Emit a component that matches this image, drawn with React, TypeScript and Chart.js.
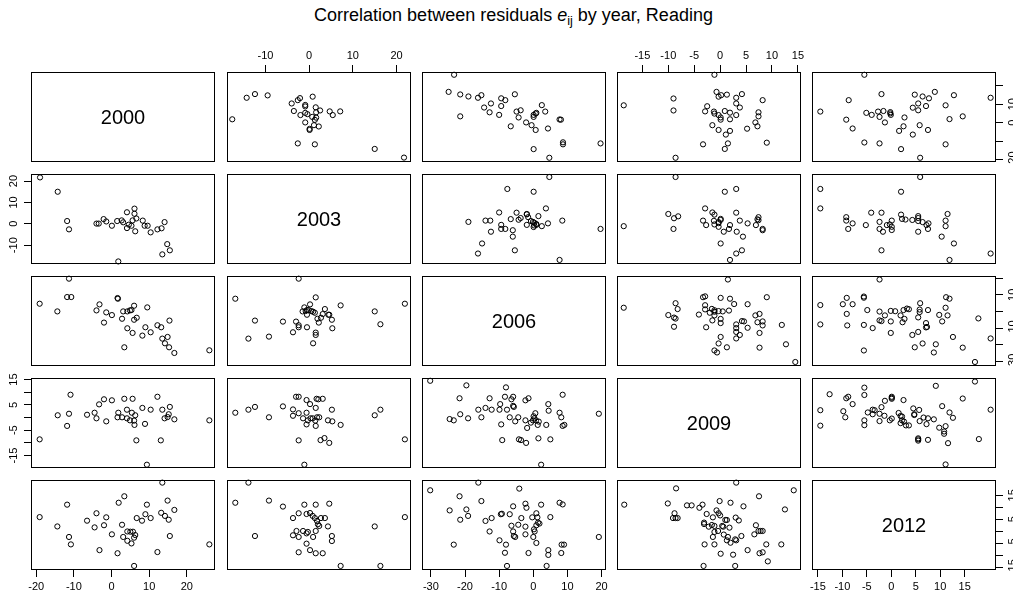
import { useEffect, useRef } from 'react';
import { Chart, registerables } from 'chart.js';

Chart.register(...registerables);

const years = ['2000', '2003', '2006', '2009', '2012'];

// Residual pairs [earlier year, later year] (pairwise complete observations)
const pairs2000_2003 = [[-19.0,21.7],[-14.3,15.0],[-11.8,1.3],[-11.3,-2.6],[-4.0,0.1],[-3.4,0.1],[-2.1,2.2],[-1.4,1.1],[0.1,-0.9],[1.5,1.3],[1.8,-17.6],[2.7,1.6],[3.1,0.7],[4.1,5.4],[4.1,-2.0],[4.6,-0.4],[5.3,-0.9],[5.6,1.6],[6.1,7.1],[6.1,4.7],[6.6,2.5],[6.3,-3.5],[8.3,1.5],[8.8,-0.9],[9.6,-0.9],[10.4,-4.0],[12.2,-2.6],[13.3,-2.1],[14.1,0.8],[14.8,-9.5],[13.5,-14.3],[15.5,-12.4]];
const pairs2000_2006 = [[-19.1,4.7],[-14.4,0.1],[-11.8,8.7],[-10.7,8.7],[-11.3,19.7],[-4.0,0.7],[-3.2,4.3],[-2.0,-6.6],[-1.4,-0.5],[0.1,-2.1],[1.6,8.1],[1.7,7.7],[2.8,-4.3],[3.1,0.1],[3.4,-21.4],[4.2,0.1],[4.2,-10.0],[4.9,0.7],[5.3,0.9],[5.6,-12.8],[6.0,3.5],[6.0,-4.9],[6.7,-3.7],[8.2,-14.4],[9.0,-9.4],[9.5,2.5],[10.4,-12.4],[12.2,-8.2],[13.2,-9.4],[13.5,-16.2],[14.2,-19.0],[14.9,-15.2],[15.3,-21.4],[15.4,-5.4],[16.7,-24.8],[26.0,-23.2]];
const pairs2000_2009 = [[-19.1,-8.6],[-14.3,0.9],[-11.8,-3.3],[-11.3,1.5],[-10.9,9.0],[-6.5,1.1],[-4.5,1.9],[-4.0,-0.3],[-3.3,5.2],[-2.0,7.2],[-1.4,-1.5],[0.1,6.8],[1.6,0.1],[1.8,1.9],[2.8,0.1],[3.4,7.4],[4.1,3.1],[4.1,-0.3],[4.9,-1.1],[5.4,1.9],[5.6,7.4],[6.0,-1.2],[6.1,-2.9],[6.3,0.9],[6.6,-9.0],[8.2,3.8],[8.9,-2.5],[9.4,-18.6],[10.4,3.1],[12.2,8.2],[13.1,-9.0],[13.5,3.1],[14.1,-0.3],[14.9,0.2],[15.2,1.3],[15.5,4.2],[16.7,-0.7],[26.0,-1.1]];
const pairs2000_2012 = [[-19.1,5.9],[-14.4,2.0],[-11.8,11.1],[-11.3,-2.4],[-10.8,-5.5],[-6.5,4.4],[-4.5,1.6],[-4.0,7.5],[-3.2,-7.9],[-2.0,2.5],[-1.4,5.8],[0.1,-1.3],[1.6,-9.2],[1.9,11.9],[2.8,2.7],[3.1,-2.4],[3.4,14.6],[4.2,-0.1],[4.2,-4.0],[5.0,-0.2],[5.3,-5.1],[5.7,-0.2],[6.0,-2.7],[6.3,-1.6],[6.0,-14.5],[6.7,5.5],[8.1,4.4],[9.0,7.1],[9.4,11.1],[10.4,5.5],[12.2,-8.7],[13.2,7.7],[13.5,20.3],[14.2,6.4],[14.9,12.8],[15.2,4.8],[15.5,-2.0],[16.7,8.9],[26.0,-5.5]];
const pairs2003_2006 = [[-16.9,7.7],[-13.9,-16.2],[-12.4,-5.4],[-9.2,-15.0],[-6.0,-6.0],[-3.7,-12.4],[-3.0,-6.0],[-2.4,19.7],[-2.4,-8.2],[-2.4,-9.4],[-1.5,0.1],[-1.1,2.5],[-0.8,0.3],[-0.5,-1.9],[-0.5,0.9],[-0.1,0.9],[-0.5,-9.4],[0.2,4.3],[0.5,0.3],[0.9,-0.1],[1.3,-0.7],[1.5,8.5],[1.5,-12.6],[1.5,-14.0],[0.9,-19.0],[1.9,-4.3],[2.2,-6.6],[2.7,-3.7],[3.1,-1.5],[3.6,1.5],[4.4,-1.9],[4.6,-1.9],[5.2,-4.9],[5.3,-10.0],[7.2,3.7],[15.0,0.1],[16.3,-7.6],[21.9,4.7]];
const pairs2003_2009 = [[-16.9,1.9],[-13.9,3.1],[-12.4,4.2],[-9.2,0.1],[-6.0,4.4],[-3.7,3.2],[-3.7,0.7],[-3.0,8.2],[-2.4,8.2],[-2.4,1.7],[-2.4,-9.0],[-1.4,-0.3],[-1.1,-18.6],[-0.6,6.9],[-0.6,1.9],[-0.6,-2.7],[-0.3,-1.1],[0.2,5.3],[0.3,-0.3],[0.8,-0.3],[1.4,-1.2],[1.5,3.8],[1.5,-3.3],[1.7,7.4],[1.8,0.1],[2.1,7.2],[2.3,0.1],[2.6,-8.9],[3.1,7.4],[3.5,-8.1],[4.3,-1.1],[4.6,-10.0],[5.2,3.1],[5.3,-1.5],[7.2,-2.9],[15.0,0.9],[16.3,3.1],[21.9,-8.6]];
const pairs2003_2012 = [[-16.9,11.9],[-13.9,20.3],[-12.4,-2.0],[-9.2,12.8],[-6.0,10.3],[-3.7,5.5],[-3.7,-1.7],[-2.9,0.1],[-2.4,7.5],[-2.4,-2.4],[-2.4,-8.8],[-1.4,0.1],[-1.1,11.1],[-0.6,7.2],[-0.6,-0.9],[-0.6,-5.2],[-0.3,-0.3],[0.2,7.6],[0.2,-7.9],[0.8,6.4],[0.9,-2.4],[1.3,5.5],[1.5,11.1],[1.5,0.1],[1.5,-9.2],[1.8,4.3],[2.0,2.9],[2.3,2.2],[2.7,5.5],[3.1,-9.2],[3.6,5.5],[4.3,2.0],[4.6,11.5],[5.2,-2.0],[5.2,-4.1],[7.2,-14.5],[15.0,2.0],[16.3,-14.5],[21.9,5.9]];
const pairs2006_2009 = [[-30.2,14.5],[-24.5,-0.6],[-23.3,-1.1],[-21.6,7.6],[-21.4,1.3],[-19.6,12.7],[-19.1,-0.3],[-16.1,3.1],[-15.2,0.1],[-14.0,3.8],[-12.8,7.6],[-12.2,3.1],[-9.9,3.1],[-9.7,5.3],[-9.4,-2.7],[-9.1,-8.9],[-8.3,8.2],[-8.0,11.9],[-7.7,3.1],[-6.9,0.1],[-6.4,7.2],[-5.9,8.2],[-5.9,4.6],[-5.7,4.2],[-5.3,-1.5],[-4.4,0.1],[-4.2,-8.6],[-3.6,-8.9],[-2.3,-1.1],[-2.3,6.8],[-2.1,-10.0],[-1.8,-4.1],[-1.4,7.6],[-0.7,-2.0],[-0.1,-1.1],[0.1,0.5],[0.3,-0.3],[0.6,1.7],[0.8,-1.1],[1.3,-2.9],[1.6,-1.6],[1.5,-8.2],[2.3,-18.6],[3.8,-2.9],[4.4,5.3],[4.5,2.7],[5.0,-8.6],[7.7,1.9],[8.2,0.1],[8.6,9.0],[8.6,-3.3],[9.1,-2.9],[19.2,1.5]];
const pairs2006_2012 = [[-30.2,17.1],[-24.5,8.7],[-23.3,-5.6],[-21.6,14.6],[-21.4,4.8],[-19.6,9.1],[-19.1,6.4],[-16.1,20.3],[-15.2,12.6],[-14.0,4.3],[-12.8,-0.1],[-12.2,5.5],[-9.9,-3.8],[-9.5,7.1],[-9.2,7.3],[-8.3,-9.0],[-8.0,-5.6],[-7.7,-14.5],[-6.9,7.1],[-6.4,2.3],[-5.9,10.4],[-5.9,-0.1],[-5.7,-2.0],[-5.3,-2.4],[-4.4,2.7],[-4.1,17.8],[-3.5,5.5],[-2.3,11.5],[-2.0,9.8],[-2.3,1.9],[-2.3,-1.3],[-1.4,-9.1],[-0.3,5.8],[0.0,-2.4],[0.2,0.8],[0.4,-0.1],[0.9,7.5],[0.9,2.5],[0.9,-4.9],[1.2,5.8],[1.4,3.6],[1.8,3.2],[2.3,11.1],[3.9,-14.5],[4.4,-7.9],[4.4,-9.9],[5.0,5.9],[7.7,11.9],[8.6,11.2],[8.3,-5.6],[9.0,-5.6],[8.2,-9.1],[19.2,-2.4]];
const pairs2009_2012 = [[-18.5,11.1],[-10.1,11.6],[-8.5,17.9],[-8.8,7.5],[-9.1,5.5],[-8.6,5.5],[-8.2,5.5],[-6.4,10.8],[-5.5,10.8],[-4.0,9.8],[-3.4,11.1],[-3.1,3.6],[-3.1,3.0],[-3.0,-5.5],[-3.2,-14.5],[-2.6,7.2],[-2.2,1.9],[-1.6,2.6],[-1.4,5.8],[-1.1,-5.5],[-1.1,2.2],[-1.4,-2.4],[-1.1,-0.3],[-0.7,8.7],[-0.4,0.1],[-0.3,7.5],[0.0,6.6],[-0.1,12.6],[0.1,-9.4],[0.4,2.2],[0.6,1.9],[0.7,-1.4],[1.0,4.7],[1.3,4.7],[1.3,-3.8],[1.5,-2.4],[1.8,1.5],[2.0,11.9],[2.0,-4.8],[2.5,-9.8],[2.9,-3.4],[3.0,5.7],[3.1,20.3],[2.9,-14.5],[3.1,-3.8],[3.6,4.5],[4.1,-2.0],[4.5,10.4],[5.3,-7.9],[6.6,-1.3],[6.9,2.5],[7.4,0.1],[7.8,0.1],[8.2,0.1],[7.5,14.6],[7.6,-9.2],[8.2,-8.8],[8.9,-5.5],[9.2,-12.6],[11.8,-5.5],[12.5,9.1],[14.2,17.1]];

// axis limits per year (data range extended by 4%)
const axisMin = [-21.4, -18.8, -32.6, -19.9, -16.2];
const axisMax = [27.5, 23.3, 21.3, 15.6, 21.4];
// tick values per year
const tickValues = [
  [-20, -10, 0, 10, 20],
  [-10, 0, 10, 20],
  [-30, -20, -10, 0, 10, 20],
  [-15, -10, -5, 0, 5, 10, 15],
  [-15, -10, -5, 0, 5, 10, 15],
];
// labels that fit on the vertical axes
const sideLabelValues = [
  [-20, 0, 10],
  [-10, 0, 10, 20],
  [-30, -10, 10],
  [-15, -5, 5, 15],
  [-15, -5, 5, 15],
];

const pairTable: Record<string, number[][]> = {
  '0-1': pairs2000_2003, '0-2': pairs2000_2006, '0-3': pairs2000_2009, '0-4': pairs2000_2012,
  '1-2': pairs2003_2006, '1-3': pairs2003_2009, '1-4': pairs2003_2012,
  '2-3': pairs2006_2009, '2-4': pairs2006_2012,
  '3-4': pairs2009_2012,
};

const COL_LEFT = [31, 227, 422, 617, 812];
const ROW_TOP = [72, 174, 276, 378, 480];
const W = 184;
const H = 90;
const M = 30;
const FONT = '"Liberation Sans", Arial, Helvetica, sans-serif';

const cells: { r: number; c: number }[] = [];
for (let r = 0; r < 5; r++) for (let c = 0; c < 5; c++) cells.push({ r, c });

function makeChart(canvas: HTMLCanvasElement, r: number, c: number) {
  const showTop = r === 0 && c % 2 === 1;
  const showBottom = r === 4 && c % 2 === 0;
  const showLeft = c === 0 && r % 2 === 1;
  const showRight = c === 4 && r % 2 === 0;
  const xPos = showTop ? 'top' : 'bottom';
  const yPos = showRight ? 'right' : 'left';
  const xShown = showTop || showBottom;
  const yShown = showLeft || showRight;

  let points: { x: number; y: number }[] = [];
  if (r !== c) {
    const a = Math.min(r, c);
    const b = Math.max(r, c);
    const src = pairTable[`${a}-${b}`];
    points = src.map((p) => (c < r ? { x: p[0], y: p[1] } : { x: p[1], y: p[0] }));
  }

  const panelPlugin = {
    id: 'panel' + r + c,
    afterDraw(chart: any) {
      const ctx = chart.ctx;
      const a = chart.chartArea;
      ctx.save();
      ctx.strokeStyle = '#000';
      ctx.lineWidth = 1;
      ctx.strokeRect(Math.round(a.left) + 0.5, Math.round(a.top) + 0.5, Math.round(a.right - a.left) - 1, Math.round(a.bottom - a.top) - 1);
      ctx.fillStyle = '#000';
      ctx.font = `11px ${FONT}`;
      ctx.textAlign = 'center';
      ctx.textBaseline = 'middle';
      if (xShown) {
        const s = chart.scales.x;
        const y = showBottom ? a.bottom + 17 : a.top - 16;
        tickValues[c].forEach((v) => ctx.fillText(String(v), s.getPixelForValue(v), y));
      }
      if (yShown) {
        const s = chart.scales.y;
        const x = showLeft ? a.left - 17 : a.right + 17;
        sideLabelValues[r].forEach((v) => {
          ctx.save();
          ctx.translate(x, s.getPixelForValue(v));
          ctx.rotate(-Math.PI / 2);
          ctx.fillText(String(v), 0, 0);
          ctx.restore();
        });
      }
      if (r === c) {
        ctx.font = `20px ${FONT}`;
        ctx.fillText(years[r], (a.left + a.right) / 2, (a.top + a.bottom) / 2 + 1);
      }
      ctx.restore();
    },
  };

  const scaleBase = (idx: number, shown: boolean, horizontal: boolean, pos: string) => ({
    type: 'linear' as const,
    position: pos,
    min: axisMin[idx],
    max: axisMax[idx],
    afterBuildTicks: (s: any) => {
      s.ticks = tickValues[idx].map((v) => ({ value: v }));
    },
    afterFit: (s: any) => {
      if (horizontal) s.height = M;
      else s.width = M;
    },
    ticks: { display: false },
    grid: { display: shown, drawOnChartArea: false, drawTicks: true, tickLength: 7, color: '#000', lineWidth: 1 },
    border: { display: false },
  });

  return new Chart(canvas, {
    type: 'scatter',
    data: {
      datasets: [
        {
          data: points,
          pointRadius: 2.6,
          pointBorderWidth: 1,
          borderColor: '#000',
          backgroundColor: 'rgba(0,0,0,0)',
          pointBackgroundColor: 'rgba(0,0,0,0)',
          pointBorderColor: '#000',
          showLine: false,
          clip: false as any,
        },
      ],
    },
    options: {
      responsive: false,
      animation: false,
      events: [],
      layout: {
        padding: {
          top: xPos === 'top' ? 0 : M,
          bottom: xPos === 'bottom' ? 0 : M,
          left: yPos === 'left' ? 0 : M,
          right: yPos === 'right' ? 0 : M,
        },
      },
      plugins: { legend: { display: false }, tooltip: { enabled: false }, title: { display: false } },
      scales: {
        x: scaleBase(c, xShown, true, xPos) as any,
        y: scaleBase(r, yShown, false, yPos) as any,
      },
    },
    plugins: [panelPlugin],
  });
}

export default function App() {
  const refs = useRef<(HTMLCanvasElement | null)[]>([]);

  useEffect(() => {
    const charts: Chart[] = [];
    cells.forEach(({ r, c }, i) => {
      const cv = refs.current[i];
      if (cv) charts.push(makeChart(cv, r, c));
    });
    return () => charts.forEach((ch) => ch.destroy());
  }, []);

  return (
    <div
      style={{
        position: 'fixed',
        left: 0,
        top: 0,
        width: 1013,
        height: 599,
        overflow: 'hidden',
        background: '#fff',
      }}
    >
      <div
        style={{
          position: 'absolute',
          left: 31,
          width: 965,
          top: 5,
          textAlign: 'center',
          fontFamily: FONT,
          fontSize: 18,
          lineHeight: '20px',
          color: '#000',
          whiteSpace: 'nowrap',
        }}
      >
        Correlation between residuals <i>e</i>
        <sub style={{ fontSize: '0.7em', lineHeight: 0, verticalAlign: '-0.3em' }}>ij</sub> by year, Reading
      </div>
      {cells.map(({ r, c }, i) => (
        <canvas
          key={i}
          ref={(el) => {
            refs.current[i] = el;
          }}
          width={W + 2 * M}
          height={H + 2 * M}
          style={{
            position: 'absolute',
            left: COL_LEFT[c] - M,
            top: ROW_TOP[r] - M,
            width: W + 2 * M,
            height: H + 2 * M,
          }}
        />
      ))}
    </div>
  );
}
